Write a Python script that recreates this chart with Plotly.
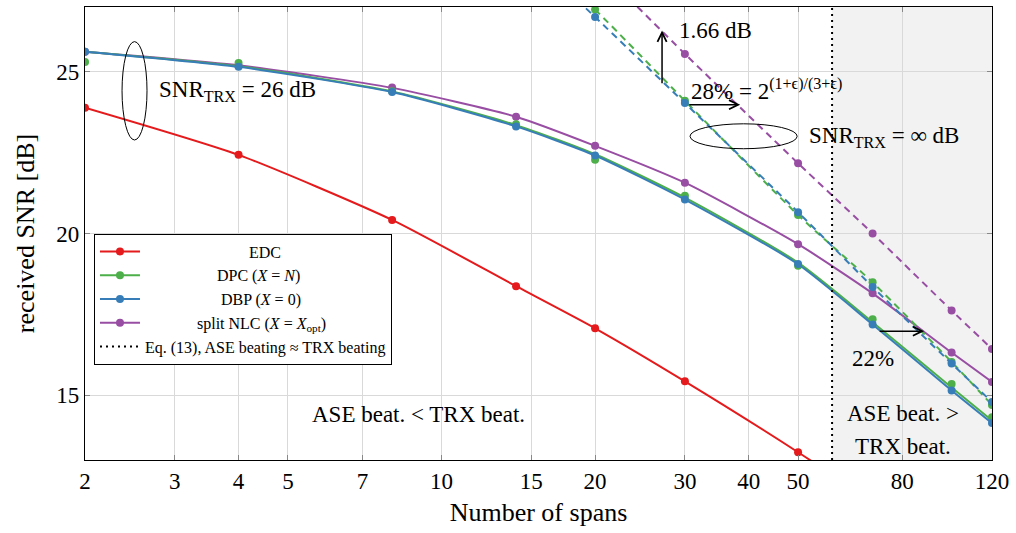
import math
import plotly.graph_objects as go

# ---------------- data ----------------
spans = [2, 4, 8, 14, 20, 30, 50, 70, 100, 120]
# simulated points (markers)
snr_edc = [23.89, 22.43, 20.42, 18.37, 17.07, 15.43, 13.24, 11.7, 10.0, 9.1]
snr_dpc = [25.30, 25.27, 24.40, 23.38, 22.28, 21.17, 19.00, 17.35, 15.35, 14.32]
snr_dbp = [25.62, 25.15, 24.37, 23.31, 22.41, 21.05, 19.06, 17.19, 15.15, 14.14]
snr_split = [25.62, 25.18, 24.51, 23.61, 22.71, 21.57, 19.67, 18.15, 16.32, 15.41]
# model curves (lines)
curve_edc = [23.89, 22.43, 20.42, 18.37, 17.07, 15.43, 13.24, 11.7, 10.0, 9.1]
curve_dpc = [25.62, 25.17, 24.39, 23.35, 22.45, 21.11, 19.10, 17.26, 15.24, 14.22]
curve_dbp = [25.62, 25.15, 24.37, 23.31, 22.41, 21.05, 19.05, 17.19, 15.15, 14.14]
curve_split = [25.62, 25.20, 24.50, 23.61, 22.71, 21.57, 19.67, 18.15, 16.32, 15.41]

spans_inf = [14, 20, 30, 50, 70, 100, 120]
snr_dpc_inf = [29.2, 26.92, 24.10, 20.57, 18.49, 16.03, 14.70]
snr_dbp_inf = [29.0, 26.69, 24.03, 20.66, 18.35, 15.98, 14.79]
snr_split_inf = [30.6, 28.3, 25.55, 22.17, 20.0, 17.62, 16.43]

n_eq = 58.3  # Eq. (13): ASE beating == TRX beating

x_ticks = [2, 3, 4, 5, 7, 10, 15, 20, 30, 40, 50, 80, 120]
y_ticks = [15, 20, 25]
x_lim = [2, 120]
y_lim = [13, 27]

# ---------------- style ----------------
RED = "#e41a1c"
GREEN = "#4daf4a"
BLUE = "#377eb8"
PURPLE = "#984ea3"
FONT = "Liberation Serif"
NB = "\u00a0"

fig = go.Figure()

def solid(x, y_line, y_mark, color, name, rank):
    fig.add_trace(go.Scatter(
        x=x, y=y_line, mode="lines", showlegend=False,
        line=dict(color=color, width=2, shape="spline", smoothing=0.6),
        hoverinfo="skip",
    ))
    fig.add_trace(go.Scatter(
        x=x, y=y_mark, mode="markers", showlegend=False,
        marker=dict(color=color, size=8),
    ))
    # legend entry (line + marker sample)
    fig.add_trace(go.Scatter(
        x=[None], y=[None], mode="lines+markers", name=name, legendrank=rank,
        line=dict(color=color, width=2), marker=dict(color=color, size=8),
    ))

def dashed(x, y, color):
    fig.add_trace(go.Scatter(
        x=x, y=y, mode="lines+markers", showlegend=False,
        line=dict(color=color, width=2, dash="7px,5px", shape="spline", smoothing=0.6),
        marker=dict(color=color, size=8),
    ))

solid(spans, curve_edc, snr_edc, RED, NB * 26 + "EDC", 1)
solid(spans, curve_split, snr_split, PURPLE, NB * 13 + "split NLC (<i>X</i> = <i>X</i><sub>opt</sub>)", 4)
solid(spans, curve_dpc, snr_dpc, GREEN, NB * 18 + "DPC (<i>X</i> = <i>N</i>)", 2)
solid(spans, curve_dbp, snr_dbp, BLUE, NB * 19 + "DBP (<i>X</i> = 0)", 3)

dashed(spans_inf, snr_split_inf, PURPLE)
dashed(spans_inf, snr_dpc_inf, GREEN)
dashed(spans_inf, snr_dbp_inf, BLUE)

fig.add_trace(go.Scatter(
    x=[n_eq, n_eq], y=y_lim, mode="lines", legendrank=5,
    name="Eq. (13), ASE beating ≈ TRX beating",
    line=dict(color="black", width=2, dash="2px,4px"),
))

# shaded region beyond Eq. (13)
fig.add_shape(type="rect", xref="x", yref="y", x0=n_eq, x1=x_lim[1], y0=y_lim[0], y1=y_lim[1],
              fillcolor="#f2f2f2", line=dict(width=0), layer="below")

# ellipses
fig.add_shape(type="circle", xref="x", yref="y", x0=2.364, x1=2.646, y0=22.89, y1=25.93,
              line=dict(color="black", width=1))
fig.add_shape(type="circle", xref="x", yref="y", x0=30.7, x1=49.8, y0=22.62, y1=23.39,
              line=dict(color="black", width=1))

L = math.log10
ann_font = dict(family=FONT, size=23, color="black")

def text(x, y, s, xanchor="left"):
    fig.add_annotation(x=L(x), y=y, xref="x", yref="y", text=s, showarrow=False,
                       xanchor=xanchor, yanchor="middle", font=ann_font)

def arrow(x0, y0, x1, y1):
    fig.add_annotation(x=L(x1), y=y1, ax=L(x0), ay=y0, xref="x", yref="y", axref="x", ayref="y",
                       text="", showarrow=True, arrowhead=5, arrowsize=1.2, arrowwidth=1.5,
                       arrowcolor="black")

text(2.77, 24.41, "SNR<sub>TRX</sub> = 26 dB")
text(52.1, 22.99, "SNR<sub>TRX</sub> = ∞ dB")
text(28.96, 26.27, "1.66 dB")
text(30.6, 24.44, "28% = 2<sup>(1+ϵ)/(3+ϵ)</sup>")
text(70.2, 16.15, "22%", xanchor="center")
text(9.0, 14.41, "ASE beat. &lt; TRX beat.", xanchor="center")
text(80.4, 14.44, "ASE beat. &gt;", xanchor="center")
text(80.4, 13.42, "TRX beat.", xanchor="center")

arrow(27.06, 24.6, 27.06, 26.27)
arrow(30.4, 23.98, 38.5, 23.98)
arrow(71.8, 16.98, 88.3, 16.98)

fig.update_xaxes(
    type="log", range=[L(x_lim[0]), L(x_lim[1])],
    tickvals=x_ticks, ticktext=[str(v) for v in x_ticks],
    showgrid=True, gridcolor="#d9d9d9", gridwidth=1,
    showline=True, linecolor="black", linewidth=1.2, mirror="ticks",
    ticks="inside", ticklen=5, tickcolor="#888",
    tickfont=dict(family=FONT, size=23, color="black"),
    title=dict(text="Number of spans", font=dict(family=FONT, size=26, color="black"), standoff=10),
    zeroline=False, automargin=False,
)
fig.update_yaxes(
    range=y_lim, tickvals=y_ticks,
    showgrid=True, gridcolor="#d9d9d9", gridwidth=1,
    showline=True, linecolor="black", linewidth=1.2, mirror="ticks",
    ticks="inside", ticklen=5, tickcolor="#888",
    tickfont=dict(family=FONT, size=23, color="black"),
    title=dict(text="received SNR [dB]", font=dict(family=FONT, size=26, color="black"), standoff=14),
    zeroline=False, automargin=False,
)

fig.update_layout(
    width=1016, height=533,
    margin=dict(l=85, r=24, t=7, b=73),
    paper_bgcolor="white", plot_bgcolor="white",
    font=dict(family=FONT, color="black"),
    legend=dict(x=0.0099, y=0.50, xanchor="left", yanchor="top",
                bgcolor="white", bordercolor="black", borderwidth=1,
                font=dict(family=FONT, size=16, color="black"),
                itemwidth=40, tracegroupgap=0),
)

fig.write_html("out.html", config={"displayModeBar": False},
               post_script="document.body.style.margin='0';")
